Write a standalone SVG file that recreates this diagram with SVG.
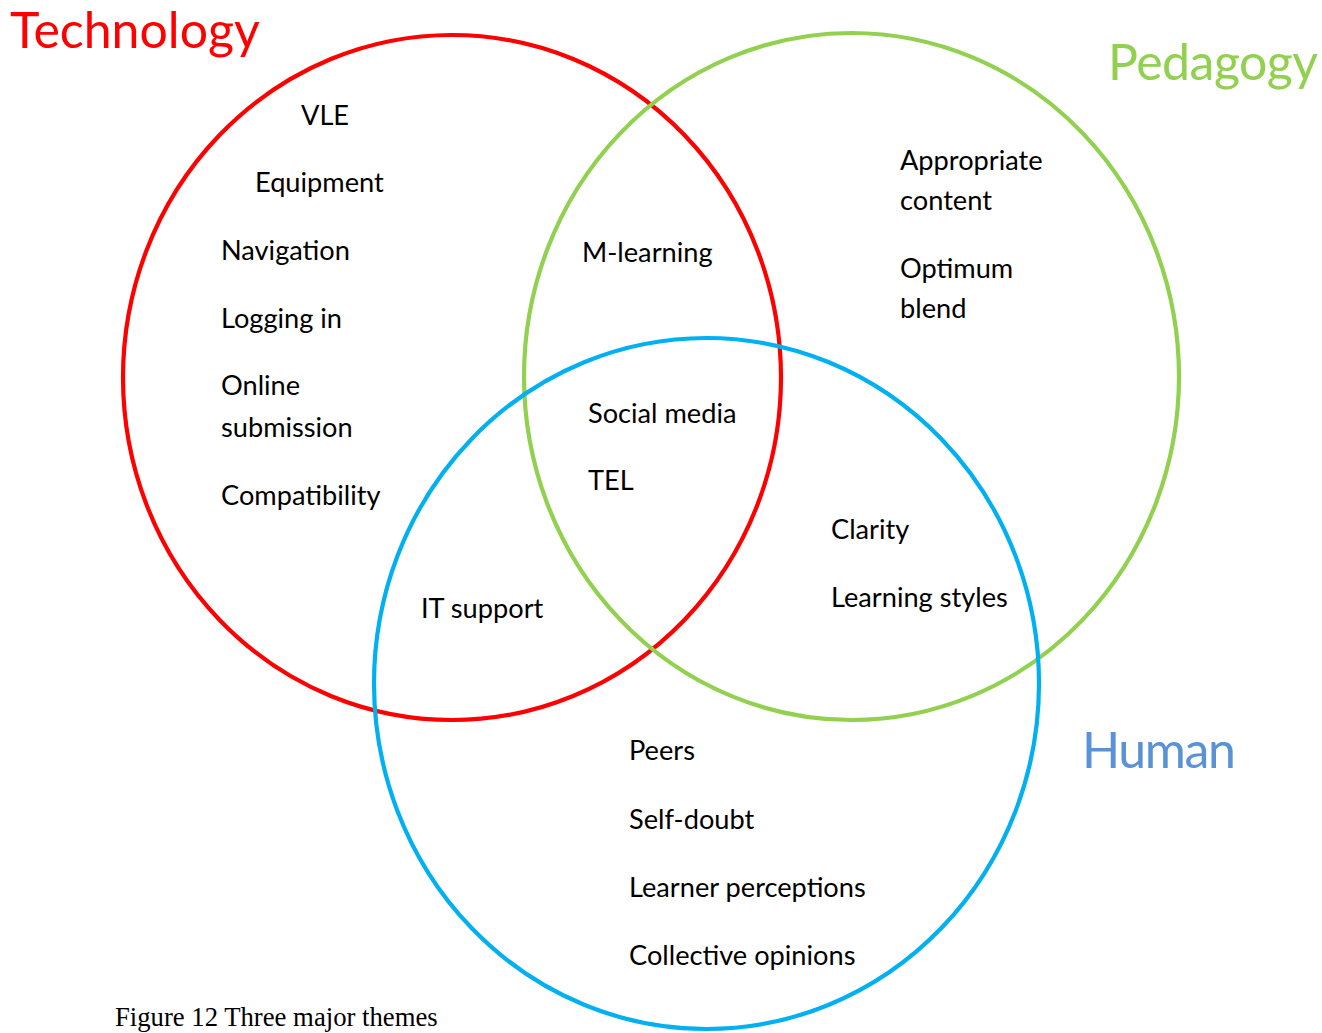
<svg xmlns="http://www.w3.org/2000/svg" width="1322" height="1033" viewBox="0 0 1322 1033">
<style>
.ring{fill:none;stroke-width:4.2}
.t{font-family:Lato,"Open Sans","Liberation Sans",sans-serif;font-size:27.2px;fill:#000}
.title{font-family:Lato,"Open Sans","Liberation Sans",sans-serif;font-size:50px}
.cap{font-family:"Liberation Serif","Times New Roman",serif;font-size:26.7px;fill:#000}
</style>
<rect width="1322" height="1033" fill="#fff"/>
<g id="technology">
<ellipse class="ring" cx="452" cy="377.5" rx="329" ry="342.5" stroke="#FF0000"/>
<text class="title" x="10" y="48" fill="#FF0000">Technology</text>
</g>
<g id="pedagogy">
<ellipse class="ring" cx="851.5" cy="376.5" rx="327.5" ry="343.5" stroke="#92D050"/>
<text class="title" x="1108" y="80" fill="#92D050" textLength="210">Pedagogy</text>
</g>
<g id="human">
<ellipse class="ring" cx="706.5" cy="683.5" rx="332.5" ry="345.5" stroke="#00B0F0"/>
<text class="title" x="1082" y="768" fill="#5A92D6" textLength="154">Human</text>
</g>
<g id="connectors"></g>
<g id="tech-items">
<text class="t" x="301" y="125">VLE</text>
<text class="t" x="255" y="192">Equipment</text>
<text class="t" x="221" y="260">Navigation</text>
<text class="t" x="221" y="328">Logging in</text>
<text class="t" x="221" y="395">Online</text>
<text class="t" x="221" y="437">submission</text>
<text class="t" x="221" y="505">Compatibility</text>
</g>
<g id="tech-ped">
<text class="t" x="582" y="262">M-learning</text>
</g>
<g id="ped-items">
<text class="t" x="900" y="170">Appropriate</text>
<text class="t" x="900" y="210">content</text>
<text class="t" x="900" y="278">Optimum</text>
<text class="t" x="900" y="318">blend</text>
</g>
<g id="all-three">
<text class="t" x="588" y="423">Social media</text>
<text class="t" x="588" y="490">TEL</text>
</g>
<g id="tech-human">
<text class="t" x="421" y="618">IT support</text>
</g>
<g id="ped-human">
<text class="t" x="831" y="539">Clarity</text>
<text class="t" x="831" y="607">Learning styles</text>
</g>
<g id="human-items">
<text class="t" x="629" y="760">Peers</text>
<text class="t" x="629" y="829">Self-doubt</text>
<text class="t" x="629" y="897">Learner perceptions</text>
<text class="t" x="629" y="965">Collective opinions</text>
</g>
<g id="caption">
<text class="cap" x="115" y="1026">Figure 12 Three major themes</text>
</g>
</svg>
